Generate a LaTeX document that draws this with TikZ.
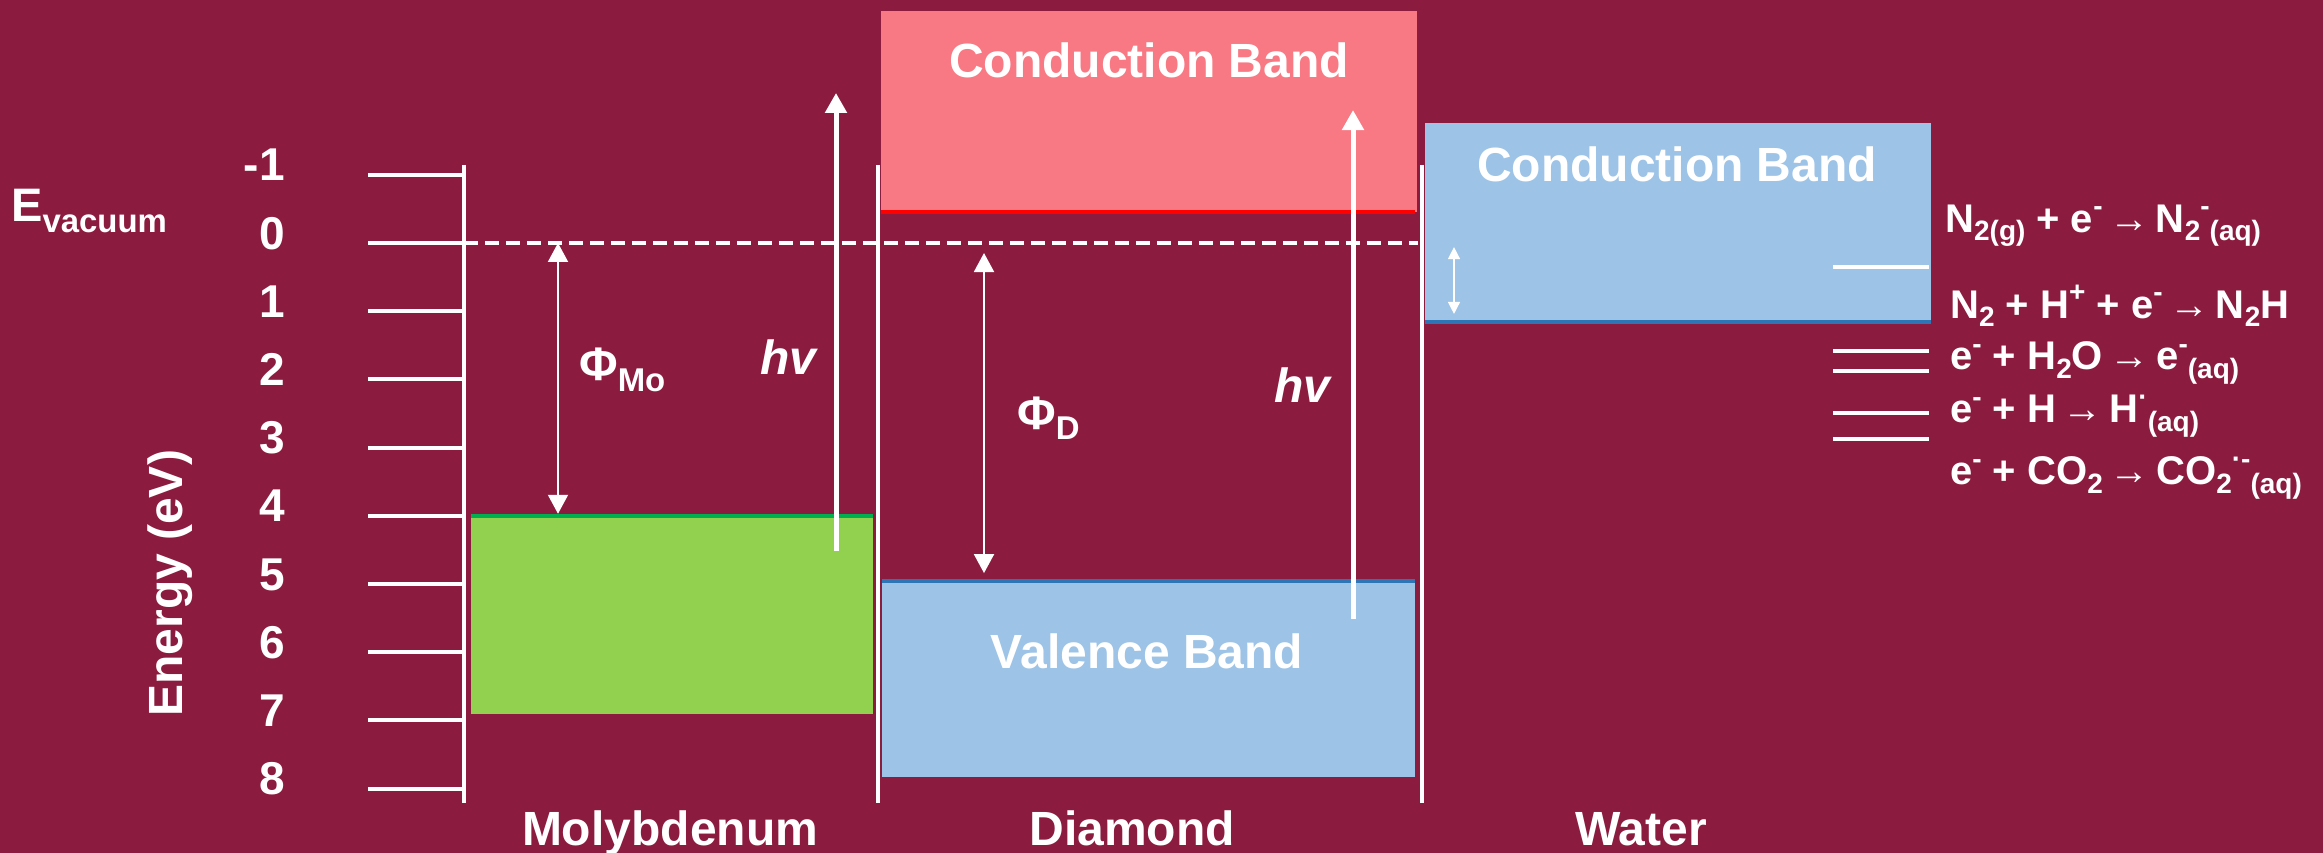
\documentclass[tikz,border=0pt]{standalone}
\usepackage{fontspec}
\setmainfont{Liberation Sans}
\usepackage{graphicx}
\usetikzlibrary{arrows.meta}

\definecolor{bgred}{HTML}{8B1C40}
\definecolor{cbpink}{HTML}{F87983}
\definecolor{mogreen}{HTML}{92D050}
\definecolor{moline}{HTML}{00B050}
\definecolor{bandblue}{HTML}{9DC3E6}
\definecolor{bandline}{HTML}{2E75B6}

\newcommand{\fs}[1]{\fontsize{#1}{#1}\selectfont}
\newcommand{\lo}[1]{\raisebox{-0.22em}{\scalebox{0.7}{#1}}}
\newcommand{\hi}[1]{\raisebox{0.42em}{\scalebox{0.7}{#1}}}
\newcommand{\rarr}{{\mdseries\,→\,}}

\tikzset{
  wline/.style={white, line width=4pt},
  txt/.style={text=white, inner sep=0pt},
  ticklbl/.style={txt, anchor=base east, font=\bfseries\fs{46}},
  bandlbl/.style={txt, anchor=base, font=\bfseries\fs{48}},
  reaction/.style={txt, anchor=base west, font=\bfseries\fs{40}},
  hvlbl/.style={txt, anchor=base west, font=\bfseries\itshape\fs{48}},
  philbl/.style={txt, anchor=base west, font=\bfseries\fs{47}},
  hvarrow/.style={white, line width=5pt, -{Triangle[width=21pt,length=20pt]}},
  phiarrow/.style={white, line width=2pt, {Triangle[width=20pt,length=19pt]}-{Triangle[width=20pt,length=19pt]}},
}

\begin{document}
\begin{tikzpicture}[x=1pt, y=-68.2pt]
  \fill[bgred] (0,-3.563) rectangle (2323,8.9443);
  \useasboundingbox (0,-3.563) rectangle (2323,8.9443);

  % bands
  \fill[cbpink] (881,-3.40) rectangle (1417,-0.455);
  \draw[red, line width=4pt] (881,-0.455) -- (1415,-0.455);
  \fill[mogreen] (471,4.0) rectangle (873,6.906);
  \draw[moline, line width=4pt] (471,4.0) -- (873,4.0);
  \fill[bandblue] (882,4.956) rectangle (1415,7.83);
  \draw[bandline, line width=4pt] (882,4.956) -- (1415,4.956);
  \fill[bandblue] (1425,-1.76) rectangle (1931,1.158);
  \draw[bandline, line width=4pt] (1425,1.158) -- (1931,1.158);

  % energy axis
  \draw[wline] (464,-1.144) -- (464,8.204);
  \foreach \e in {-1,...,8} {
    \draw[wline] (368,\e) -- (464,\e);
    \node[ticklbl] (tick\e) at (285,\e+0.09) {\e};
  }
  \node[txt, rotate=90, font=\bfseries\fs{48}] (ylabel) at (170,4.99) {Energy (eV)};
  \node[txt, anchor=base west, font=\bfseries\fs{47}] (evac) at (11,-0.308) {E\lo{vacuum}};

  % separators and vacuum level
  \draw[wline] (878,-1.144) -- (878,8.204);
  \draw[wline] (1422,-1.144) -- (1422,8.204);
  \draw[white, line width=4.5pt, dash pattern=on 14pt off 7pt] (464,0) -- (1418,0);

  % redox levels
  \foreach \e in {0.352,1.584,1.877,2.493,2.874}
    \draw[wline] (1833,\e) -- (1929,\e);

  % arrows
  \coordinate (vacMo) at (558,0);
  \coordinate (fermiMo) at (558,3.97);
  \coordinate (vacD) at (984,0.147);
  \coordinate (vbD) at (984,4.84);
  \coordinate (hvMoLow) at (836,4.516);
  \coordinate (hvMoHigh) at (836,-2.2);
  \coordinate (hvDLow) at (1353,5.513);
  \coordinate (hvDHigh) at (1353,-1.95);
  \coordinate (vacW) at (1454,0.06);
  \coordinate (cbW) at (1454,1.04);
  \draw[phiarrow] (vacMo) -- (fermiMo);
  \draw[phiarrow] (vacD) -- (vbD);
  \draw[hvarrow] (hvMoLow) -- (hvMoHigh);
  \draw[hvarrow] (hvDLow) -- (hvDHigh);
  \draw[white, line width=1.5pt, {Triangle[width=12pt,length=12pt]}-{Triangle[width=12pt,length=12pt]}] (vacW) -- (cbW);

  % labels
  \node[philbl] (phiMo) at (579,2.02) {Φ\lo{Mo}};
  \node[philbl] (phiD) at (1017,2.73) {Φ\lo{D}};
  \node[hvlbl] (hvMo) at (760,1.935) {hv};
  \node[hvlbl] (hvD) at (1274,2.346) {hv};
  \node[bandlbl] (cbD) at (1149,-2.42) {Conduction Band};
  \node[bandlbl] (vbDlbl) at (1147,6.246) {Valence Band};
  \node[bandlbl] (cbWlbl) at (1677,-0.909) {Conduction Band};

  % reactions
  \node[reaction] (r1) at (1945,-0.161) {N\lo{2(g)} + e\hi{-}\rarr N\lo{2}\hi{-}\lo{(aq)}};
  \node[reaction] (r2) at (1950,1.100) {N\lo{2} + H\hi{+} + e\hi{-}\rarr N\lo{2}H};
  \node[reaction] (r3) at (1950,1.862) {e\hi{-} + H\lo{2}O\rarr e\hi{-}\lo{(aq)}};
  \node[reaction] (r4) at (1950,2.639) {e\hi{-} + H\rarr H\hi{·}\lo{(aq)}};
  \node[reaction] (r5) at (1950,3.548) {e\hi{-} + CO\lo{2}\rarr CO\lo{2}\hi{·-}\lo{(aq)}};

  % materials
  \node[bandlbl] (mo) at (670,8.827) {Molybdenum};
  \node[bandlbl] (dia) at (1132,8.827) {Diamond};
  \node[bandlbl] (water) at (1641,8.827) {Water};
\end{tikzpicture}
\end{document}
